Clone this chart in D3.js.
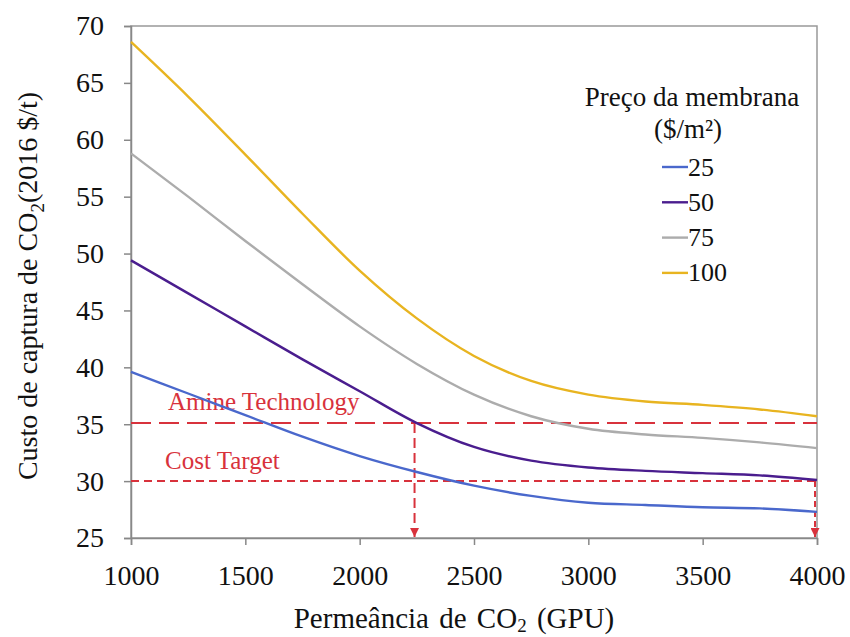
<!DOCTYPE html>
<html>
<head>
<meta charset="utf-8">
<script src="https://cdn.jsdelivr.net/npm/d3@7"></script>
<style>
  body { margin: 0; background: #fff; }
  svg text { font-family: "Liberation Serif", "Times New Roman", serif; }
</style>
</head>
<body>
<div id="chart"></div>
<script>
// permeance values (GPU)
var permeance = [1000, 1250, 1500, 1750, 2000, 2250, 2500, 2750, 3000, 3250, 3500, 3750, 4000];
// capture cost per membrane price
var price25  = [39.6, 37.7, 35.8, 33.9, 32.2, 30.8, 29.6, 28.7, 28.1, 27.9, 27.7, 27.6, 27.3];
var price50  = [49.4, 46.5, 43.6, 40.7, 37.9, 35.1, 33.0, 31.8, 31.2, 30.9, 30.7, 30.5, 30.1];
var price75  = [58.8, 55.0, 51.1, 47.3, 43.6, 40.3, 37.6, 35.7, 34.6, 34.1, 33.8, 33.4, 32.9];
var price100 = [68.6, 63.8, 58.7, 53.5, 48.5, 44.3, 41.0, 38.8, 37.6, 37.0, 36.7, 36.3, 35.7];
var seriesNames = ["25", "50", "75", "100"];
var seriesColors = ["#4a68cc", "#4a1d8e", "#acacac", "#e8b420"];
var xTicks = [1000, 1500, 2000, 2500, 3000, 3500, 4000];
var yTicks = [25, 30, 35, 40, 45, 50, 55, 60, 65, 70];
var amineCost = 35.1, targetCost = 30, amineCross = 2240;

var width = 850, height = 637;
var svg = d3.select("#chart").append("svg").attr("width", width).attr("height", height)
    .style("font-family", "'Liberation Serif', serif");

var x = d3.scaleLinear().domain([1000, 4000]).range([131, 817]);
var y = d3.scaleLinear().domain([25, 70]).range([538, 26]);

var red = "#d8323c";

// frame
svg.append("rect")
    .attr("x", x(1000)).attr("y", y(70))
    .attr("width", x(4000) - x(1000)).attr("height", y(25) - y(70))
    .attr("fill", "none").attr("stroke", "#999").attr("stroke-width", 1.5);

var yAxis = svg.append("g")
    .attr("transform", `translate(${x(1000)},0)`)
    .call(d3.axisLeft(y).tickValues(yTicks).tickSize(7).tickPadding(20).tickFormat(d3.format("d")));
var xAxis = svg.append("g")
    .attr("transform", `translate(0,${y(25)})`)
    .call(d3.axisBottom(x).tickValues(xTicks).tickSize(7).tickPadding(20).tickFormat(d3.format("d")));
[xAxis, yAxis].forEach(function(g) {
    g.attr("font-family", null).attr("font-size", null);
    g.select(".domain").attr("stroke", "#888").attr("stroke-width", 1.5);
    g.selectAll(".tick line").attr("stroke", "#888").attr("stroke-width", 1.5);
    g.selectAll(".tick text").attr("fill", "#111").style("font-size", "28px")
        .style("font-family", "'Liberation Serif', serif");
});

// reference lines
svg.append("line")
    .attr("x1", x(1000)).attr("x2", x(4000)).attr("y1", y(amineCost)).attr("y2", y(amineCost))
    .attr("stroke", red).attr("stroke-width", 2).attr("stroke-dasharray", "20,8");
svg.append("line")
    .attr("x1", x(1000)).attr("x2", x(4000)).attr("y1", y(targetCost)).attr("y2", y(targetCost))
    .attr("stroke", red).attr("stroke-width", 2).attr("stroke-dasharray", "8,5");

svg.append("defs").append("marker")
    .attr("id", "arrow").attr("viewBox", "0 0 10 10").attr("refX", 10).attr("refY", 5)
    .attr("markerWidth", 4.5).attr("markerHeight", 4.5).attr("orient", "auto")
    .append("path").attr("d", "M0,0L10,5L0,10z").attr("fill", red);

svg.append("line")
    .attr("x1", x(amineCross)).attr("x2", x(amineCross)).attr("y1", y(amineCost)).attr("y2", y(25) - 1)
    .attr("stroke", red).attr("stroke-width", 2).attr("stroke-dasharray", "10,5")
    .attr("marker-end", "url(#arrow)");
svg.append("line")
    .attr("x1", x(4000) - 2).attr("x2", x(4000) - 2).attr("y1", y(targetCost)).attr("y2", y(25) - 1)
    .attr("stroke", red).attr("stroke-width", 2).attr("stroke-dasharray", "6,4")
    .attr("marker-end", "url(#arrow)");

svg.append("text").attr("x", 168).attr("y", 410).attr("fill", red)
    .style("font-size", "25px").text("Amine Technology");
svg.append("text").attr("x", 165).attr("y", 469).attr("fill", red)
    .style("font-size", "25px").text("Cost Target");

// curves
var allSeries = [price25, price50, price75, price100];
var line = d3.line().x(function(d, i) { return x(permeance[i]); }).y(function(d) { return y(d); })
    .curve(d3.curveMonotoneX);
allSeries.forEach(function(s, k) {
    svg.append("path").datum(s)
        .attr("d", line).attr("fill", "none")
        .attr("stroke", seriesColors[k]).attr("stroke-width", 2.4);
});

// legend
svg.append("text").attr("x", 692).attr("y", 106).attr("text-anchor", "middle")
    .attr("fill", "#111").style("font-size", "27px").text("Preço da membrana");
svg.append("text").attr("x", 688).attr("y", 138).attr("text-anchor", "middle")
    .attr("fill", "#111").style("font-size", "27px").text("($/m²)");
var legend = svg.append("g").selectAll("g").data(seriesNames).enter().append("g")
    .attr("transform", function(d, i) { return `translate(0,${167 + i * 35.3})`; });
legend.append("line").attr("x1", 662).attr("x2", 688).attr("y1", 0).attr("y2", 0)
    .attr("stroke", function(d, i) { return seriesColors[i]; }).attr("stroke-width", 2.4);
legend.append("text").attr("x", 688).attr("y", 8.5).attr("fill", "#111")
    .style("font-size", "26px").text(function(d) { return d; });

// axis titles
var yt = svg.append("text").attr("transform", "translate(37,286) rotate(-90)")
    .attr("text-anchor", "middle").attr("fill", "#111").style("font-size", "28px");
yt.append("tspan").text("Custo de captura de CO");
yt.append("tspan").attr("dy", 7).style("font-size", "19px").text("2");
yt.append("tspan").attr("dy", -7).text("(2016 $/t)");

var xt = svg.append("text").attr("x", 454).attr("y", 628)
    .attr("text-anchor", "middle").attr("fill", "#111").style("font-size", "29px")
    .style("word-spacing", "3px");
xt.append("tspan").text("Permeância de CO");
xt.append("tspan").attr("dy", 4).style("font-size", "19px").text("2");
xt.append("tspan").attr("dy", -4).text(" (GPU)");
</script>
</body>
</html>
